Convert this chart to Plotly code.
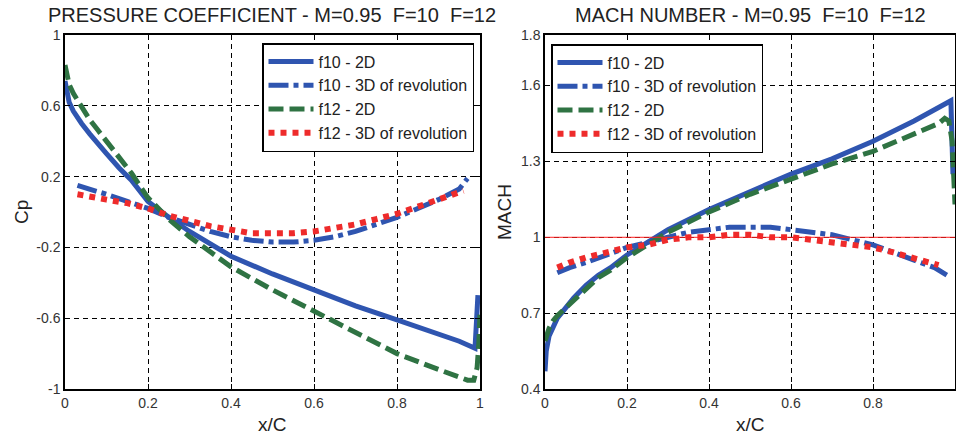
import plotly.graph_objects as go

W, H = 956, 436

# ---------------- Pressure coefficient (left panel) ----------------
cp_f10_2d_x = [0, 0.005, 0.01, 0.02, 0.03, 0.04, 0.06, 0.08, 0.10, 0.13, 0.16, 0.20,
               0.25, 0.30, 0.40, 0.50, 0.60, 0.70, 0.80, 0.90, 0.95, 0.988, 0.995]
cp_f10_2d = [0.74, 0.66, 0.62, 0.57, 0.53, 0.50, 0.44, 0.38, 0.33, 0.25, 0.18, 0.06,
             -0.03, -0.11, -0.25, -0.35, -0.44, -0.53, -0.61, -0.69, -0.73, -0.77, -0.47]

cp_f12_2d_x = [0, 0.005, 0.01, 0.02, 0.03, 0.04, 0.06, 0.08, 0.10, 0.13, 0.16, 0.20,
               0.25, 0.30, 0.40, 0.50, 0.60, 0.70, 0.80, 0.90, 0.95, 0.97, 0.985,
               0.993, 0.997, 1.0]
cp_f12_2d = [0.83, 0.76, 0.72, 0.67, 0.63, 0.59, 0.52, 0.46, 0.40, 0.31, 0.22, 0.08,
             -0.04, -0.14, -0.31, -0.44, -0.56, -0.68, -0.80, -0.89, -0.93, -0.95, -0.95,
             -0.88, -0.75, -0.58]

cp_f10_3d_x = [0.03, 0.06, 0.10, 0.15, 0.20, 0.25, 0.30, 0.35, 0.40, 0.45, 0.50, 0.55,
               0.60, 0.65, 0.70, 0.75, 0.80, 0.85, 0.90, 0.95, 0.97]
cp_f10_3d = [0.15, 0.13, 0.10, 0.06, 0.02, -0.03, -0.07, -0.11, -0.14, -0.16, -0.17, -0.17,
             -0.16, -0.14, -0.11, -0.07, -0.03, 0.02, 0.07, 0.13, 0.19]

cp_f12_3d_x = [0.03, 0.06, 0.10, 0.15, 0.20, 0.25, 0.30, 0.35, 0.40, 0.45, 0.50, 0.55,
               0.60, 0.65, 0.70, 0.75, 0.80, 0.85, 0.90, 0.96]
cp_f12_3d = [0.10, 0.09, 0.07, 0.05, 0.02, -0.02, -0.05, -0.08, -0.10, -0.12, -0.12, -0.12,
             -0.11, -0.09, -0.07, -0.04, -0.01, 0.03, 0.07, 0.12]

# ---------------- Mach number (right panel) ----------------
m_f10_2d_x = [0, 0.003, 0.01, 0.02, 0.03, 0.05, 0.07, 0.10, 0.13, 0.16, 0.20, 0.25,
              0.30, 0.40, 0.50, 0.60, 0.70, 0.80, 0.90, 0.99, 0.995]
m_f10_2d = [0.47, 0.55, 0.61, 0.65, 0.68, 0.72, 0.76, 0.81, 0.85, 0.88, 0.93, 0.98,
            1.03, 1.11, 1.18, 1.25, 1.31, 1.38, 1.46, 1.54, 1.25]

m_f12_2d_x = [0, 0.003, 0.01, 0.02, 0.03, 0.05, 0.07, 0.10, 0.13, 0.16, 0.20, 0.25,
              0.30, 0.40, 0.50, 0.60, 0.70, 0.80, 0.90, 0.96, 0.975, 0.985, 0.993, 1.0]
m_f12_2d = [0.59, 0.61, 0.64, 0.67, 0.69, 0.72, 0.75, 0.80, 0.84, 0.87, 0.92, 0.97,
            1.02, 1.10, 1.17, 1.23, 1.29, 1.34, 1.41, 1.45, 1.47, 1.46, 1.38, 1.13]

m_f10_3d_x = [0.03, 0.06, 0.10, 0.15, 0.20, 0.25, 0.30, 0.35, 0.40, 0.45, 0.50, 0.55,
              0.60, 0.65, 0.70, 0.75, 0.80, 0.85, 0.90, 0.95, 0.98]
m_f10_3d = [0.86, 0.88, 0.90, 0.93, 0.96, 0.98, 1.00, 1.02, 1.03, 1.04, 1.04, 1.04,
            1.03, 1.02, 1.01, 0.99, 0.97, 0.94, 0.91, 0.88, 0.85]

m_f12_3d_x = [0.03, 0.06, 0.10, 0.15, 0.20, 0.25, 0.30, 0.35, 0.40, 0.45, 0.50, 0.55,
              0.60, 0.65, 0.70, 0.75, 0.80, 0.85, 0.90, 0.96]
m_f12_3d = [0.88, 0.90, 0.92, 0.94, 0.96, 0.97, 0.99, 1.00, 1.00, 1.01, 1.01, 1.00,
            1.00, 0.99, 0.98, 0.97, 0.96, 0.94, 0.92, 0.89]

sonic_mach = 1.0

series_names = ["f10 - 2D", "f10 - 3D of revolution", "f12 - 2D", "f12 - 3D of revolution"]

x_ticks = [0, 0.2, 0.4, 0.6, 0.8, 1]
x_ticklabels = ["0", "0.2", "0.4", "0.6", "0.8", "1"]
cp_ticks = [-1, -0.6, -0.2, 0.2, 0.6, 1]
cp_ticklabels = ["-1", "-0.6", "-0.2", "0.2", "0.6", "1"]
mach_ticks = [0.4, 0.7, 1, 1.3, 1.6, 1.8]
mach_ticklabels = ["0.4", "0.7", "1", "1.3", "1.6", "1.8"]

# ---------------- styling ----------------
FONT = "Liberation Sans, Arial, sans-serif"
BLUE = "#2f55b0"
GREEN = "#2f7343"
RED = "#ee2b2b"
styles = [
    dict(color=BLUE, width=5, dash="solid"),
    dict(color=BLUE, width=5, dash="20px,5px,5px,5px"),
    dict(color=GREEN, width=5, dash="15px,6px"),
    dict(color=RED, width=6, dash="6px,6px"),
]


def px_x(p):
    return p / W


def px_y(p):
    return 1 - p / H


left_dom = [px_x(65), px_x(480)]
right_dom = [px_x(545), px_x(955)]
y_dom = [px_y(389), px_y(35)]

fig = go.Figure()

left_data = [(cp_f10_2d_x, cp_f10_2d), (cp_f10_3d_x, cp_f10_3d),
             (cp_f12_2d_x, cp_f12_2d), (cp_f12_3d_x, cp_f12_3d)]
right_data = [(m_f10_2d_x, m_f10_2d), (m_f10_3d_x, m_f10_3d),
              (m_f12_2d_x, m_f12_2d), (m_f12_3d_x, m_f12_3d)]

for name, (xs, ys), st in zip(series_names, left_data, styles):
    fig.add_trace(go.Scatter(x=xs, y=ys, mode="lines", name=name, line=st,
                             xaxis="x", yaxis="y", legend="legend"))
for name, (xs, ys), st in zip(series_names, right_data, styles):
    fig.add_trace(go.Scatter(x=xs, y=ys, mode="lines", name=name, line=st,
                             xaxis="x2", yaxis="y2", legend="legend2"))

# sonic line
fig.add_shape(type="line", xref="x2 domain", yref="y2", x0=0, x1=1,
              y0=sonic_mach, y1=sonic_mach, line=dict(color="#ff2020", width=1),
              layer="above")

tick_font = dict(family=FONT, size=14, color="#333")
common_axis = dict(
    showline=True, linecolor="black", linewidth=1.5, mirror="ticks",
    ticks="inside", ticklen=5, tickcolor="black", tickwidth=1,
    showgrid=True, gridcolor="black", gridwidth=1, griddash="5px,4px",
    zeroline=False, tickfont=tick_font, automargin=False,
)

legend_common = dict(
    bgcolor="white", bordercolor="black", borderwidth=1.5,
    font=dict(family=FONT, size=16, color="#222"),
    xanchor="left", yanchor="top", tracegroupgap=0, itemwidth=45,
)

fig.update_layout(
    width=W, height=H,
    margin=dict(l=0, r=0, t=0, b=0),
    template="none",
    paper_bgcolor="white", plot_bgcolor="white",
    xaxis=dict(domain=left_dom, range=[0, 1], tickvals=x_ticks, ticktext=x_ticklabels,
               anchor="y", **common_axis),
    yaxis=dict(domain=y_dom, range=[-1, 1], tickvals=cp_ticks, ticktext=cp_ticklabels,
               anchor="x", **common_axis),
    xaxis2=dict(domain=right_dom, range=[0, 1], tickvals=x_ticks, ticktext=x_ticklabels,
                anchor="y2", **common_axis),
    yaxis2=dict(domain=y_dom, range=[0.4, 1.8], tickvals=mach_ticks, ticktext=mach_ticklabels,
                anchor="x2", **common_axis),
    legend=dict(x=px_x(262), y=px_y(43), **legend_common),
    legend2=dict(x=px_x(551), y=px_y(44), **legend_common),
    showlegend=True,
)

title_font = dict(family=FONT, size=20, color="#222")
label_font = dict(family=FONT, size=19, color="#222")
annotations = [
    dict(text="PRESSURE COEFFICIENT - M=0.95 \u00a0F=10 \u00a0F=12",
         x=(left_dom[0] + left_dom[1]) / 2, y=px_y(15), font=title_font),
    dict(text="MACH NUMBER - M=0.95 \u00a0F=10 \u00a0F=12",
         x=(right_dom[0] + right_dom[1]) / 2, y=px_y(15), font=title_font),
    dict(text="x/C", x=(left_dom[0] + left_dom[1]) / 2, y=px_y(424), font=label_font),
    dict(text="x/C", x=(right_dom[0] + right_dom[1]) / 2, y=px_y(424), font=label_font),
    dict(text="Cp", x=px_x(21), y=px_y(212), textangle=-90, font=label_font),
    dict(text="MACH", x=px_x(504), y=px_y(212), textangle=-90, font=label_font),
]
for a in annotations:
    fig.add_annotation(xref="paper", yref="paper", showarrow=False,
                       xanchor="center", yanchor="middle", **a)

fig.write_html("out.html")
